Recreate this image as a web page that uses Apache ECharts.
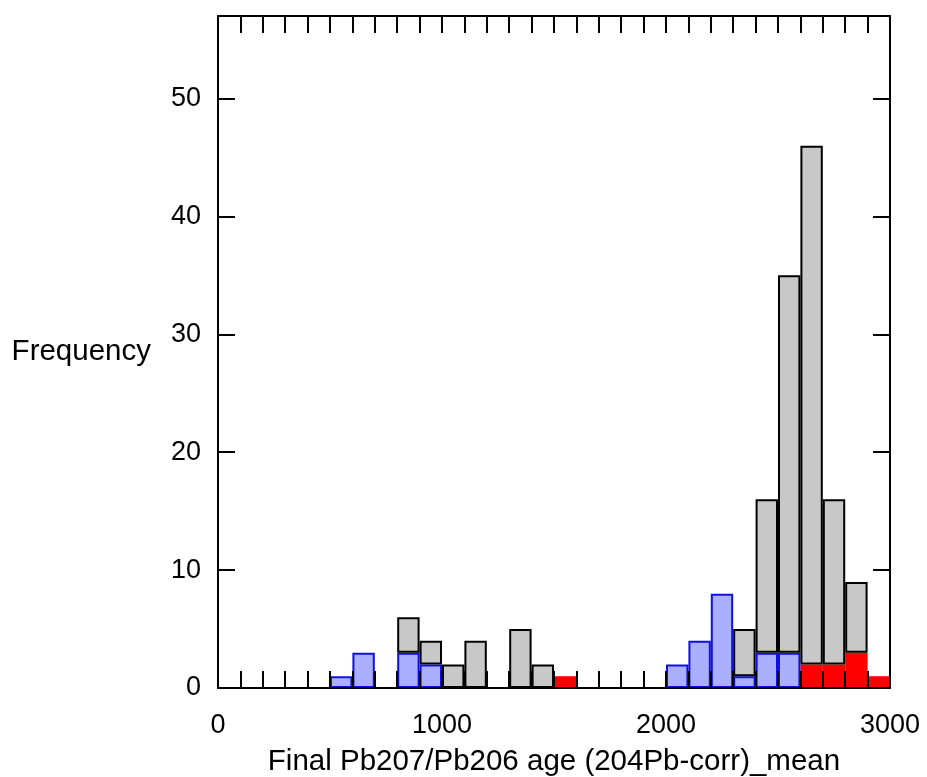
<!DOCTYPE html>
<html>
<head>
<meta charset="utf-8">
<title>Final Pb207/Pb206 age histogram</title>
<script src="https://cdn.jsdelivr.net/npm/echarts@6/dist/echarts.min.js"></script>
<style>
  html, body { margin: 0; padding: 0; background: #fff; }
  #chart { width: 927px; height: 777px; }
</style>
</head>
<body>
<div id="chart"></div>
<script>
// Age bins, 100 Ma wide, labelled by their lower edge
const binStarts = ['0','100','200','300','400','500','600','700','800','900',
  '1000','1100','1200','1300','1400','1500','1600','1700','1800','1900',
  '2000','2100','2200','2300','2400','2500','2600','2700','2800','2900'];

// Total count per bin
const totalCounts = [0,0,0,0,0,1,3,0,6,4, 2,4,0,5,2,1,0,0,0,0, 2,4,8,5,16,35,46,16,9,1];
// Subset drawn in blue
const blueCounts  = [0,0,0,0,0,1,3,0,3,2, 0,0,0,0,0,0,0,0,0,0, 2,4,8,1,3,3,0,0,0,0];
// Subset drawn in red
const redCounts   = [0,0,0,0,0,0,0,0,0,0, 0,0,0,0,0,1,0,0,0,0, 0,0,0,0,0,0,2,2,3,1];

// Tick values shown on the axes
const xTickLabels = [0, 1000, 2000, 3000];
const yTickLabels = [0, 10, 20, 30, 40, 50];

const orNone = v => (v > 0 ? v : '-');
const redData = redCounts.map(orNone);
const blueData = blueCounts.map(orNone);
const restData = totalCounts.map((t, i) => orNone(t - blueCounts[i] - redCounts[i]));

const FONT = 'Liberation Sans, Arial, Helvetica, sans-serif';
const lineStyle = { color: '#000', width: 2 };

const chart = echarts.init(document.getElementById('chart'), null, { renderer: 'canvas' });

const valueXAxis = (position, showLabels) => ({
  type: 'value',
  position: position,
  min: 0,
  max: 3000,
  interval: 100,
  z: 10,
  splitLine: { show: false },
  axisLine: { show: true, onZero: false, lineStyle: lineStyle },
  axisTick: { show: true, inside: true, length: 17, lineStyle: lineStyle },
  axisLabel: {
    show: showLabels,
    margin: 24,
    color: '#000',
    fontSize: 27,
    fontFamily: FONT,
    formatter: v => (xTickLabels.indexOf(v) >= 0 ? String(v) : '')
  }
});

const valueYAxis = (position, showLabels) => ({
  type: 'value',
  position: position,
  min: 0,
  max: 57,
  interval: 10,
  z: 10,
  splitLine: { show: false },
  axisLine: { show: true, onZero: false, lineStyle: lineStyle },
  axisTick: { show: true, inside: true, length: 17, lineStyle: lineStyle },
  axisLabel: {
    show: showLabels,
    margin: 17,
    color: '#000',
    fontSize: 27,
    fontFamily: FONT,
    formatter: v => (yTickLabels.indexOf(v) >= 0 ? String(v) : '')
  }
});

const bottomAxis = Object.assign(valueXAxis('bottom', true), {
  name: 'Final Pb207/Pb206 age (204Pb-corr)_mean',
  nameLocation: 'middle',
  nameGap: 59,
  nameTextStyle: { color: '#000', fontSize: 29.5, fontFamily: FONT }
});

const leftAxis = Object.assign(valueYAxis('left', true), {
  name: 'Frequency',
  nameLocation: 'middle',
  nameRotate: 0,
  nameGap: 67,
  nameTextStyle: { color: '#000', fontSize: 29.5, fontFamily: FONT, padding: [10, 0, 0, 0] }
});

chart.setOption({
  backgroundColor: '#fff',
  animation: false,
  grid: {
    left: 218, top: 16, width: 672, height: 672,
    containLabel: false,
    outerBoundsMode: 'none'
  },
  xAxis: [
    {
      type: 'category',
      data: binStarts,
      boundaryGap: true,
      show: false
    },
    bottomAxis,
    valueXAxis('top', false)
  ],
  yAxis: [
    leftAxis,
    valueYAxis('right', false)
  ],
  series: [
    {
      name: 'red',
      type: 'bar',
      stack: 'age',
      xAxisIndex: 0,
      yAxisIndex: 0,
      barWidth: '100%',
      barGap: '-100%',
      data: redData,
      itemStyle: { color: '#ff0000', borderWidth: 0 }
    },
    {
      name: 'blue',
      type: 'bar',
      stack: 'age',
      xAxisIndex: 0,
      yAxisIndex: 0,
      barWidth: '100%',
      data: blueData,
      itemStyle: { color: '#aab0ff', borderColor: '#1010e0', borderWidth: 2 }
    },
    {
      name: 'rest',
      type: 'bar',
      stack: 'age',
      xAxisIndex: 0,
      yAxisIndex: 0,
      barWidth: '100%',
      data: restData,
      itemStyle: { color: '#c8c8c8', borderColor: '#000', borderWidth: 2 }
    }
  ]
});
</script>
</body>
</html>
